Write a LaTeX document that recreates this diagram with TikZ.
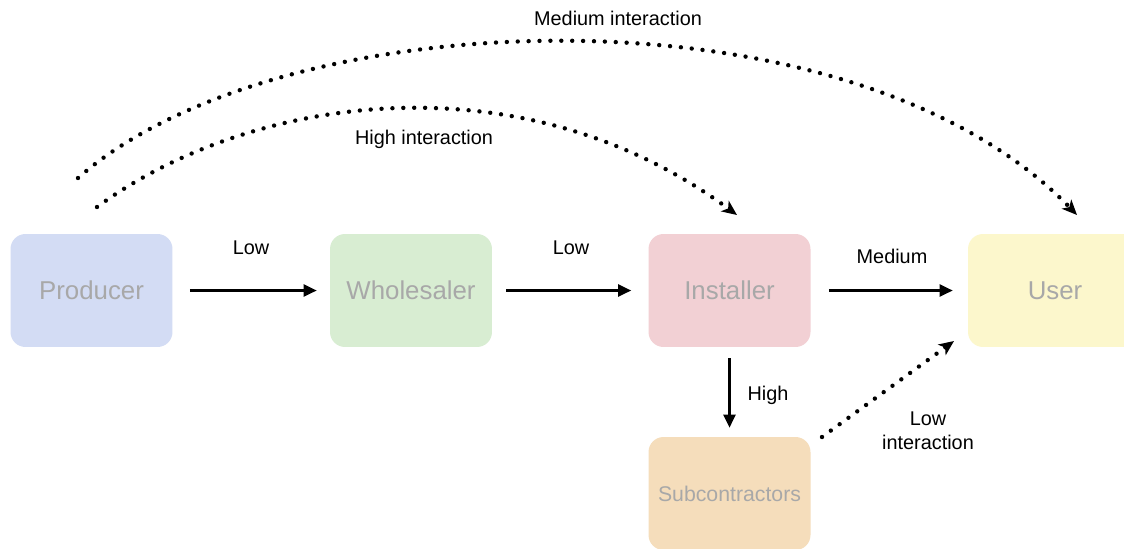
\documentclass[tikz,border=0pt]{standalone}
\usepackage{fontspec}
\setmainfont{Liberation Sans}
\usetikzlibrary{arrows.meta}
\definecolor{prodc}{HTML}{D3DCF4}
\definecolor{wholc}{HTML}{D8EDD2}
\definecolor{instc}{HTML}{F2D0D4}
\definecolor{userc}{HTML}{FCF7CC}
\definecolor{subc}{HTML}{F5DDBB}
\definecolor{txtgray}{HTML}{A8A8A8}
\begin{document}
\begin{tikzpicture}[x=0.02cm,y=-0.02cm,
  box/.style={rounded corners=0.3cm, minimum width=3.24cm, minimum height=2.26cm, inner sep=0pt, text=txtgray, font=\fontsize{14.7}{17}\selectfont},
  lbl/.style={font=\fontsize{11.3}{13.5}\selectfont, text=black, inner sep=0pt, align=center},
  solidarrow/.style={line width=1.3pt, -{Triangle[length=0.26cm,width=0.24cm]}},
  dotarrow/.style={line width=2.5pt, line cap=round, dash pattern=on 0pt off 6.2pt, -{Stealth[length=0.3cm,width=0.26cm,inset=0.08cm]}}]
\useasboundingbox (0,0) rectangle (1124,548);
\clip (0,0) rectangle (1124,548);
\fill[white] (0,0) rectangle (1124,548);

\node[box, fill=prodc] (prod) at (91.5,290.5) {Producer};
\node[box, fill=wholc] (whol) at (411,290.5) {Wholesaler};
\node[box, fill=instc] (inst) at (729.5,290.5) {Installer};
\node[box, fill=userc, minimum width=3.48cm] (user) at (1055,290.5) {User};
\node[box, fill=subc, font=\fontsize{12.1}{14}\selectfont] (sub) at (729.5,493.5) {Subcontractors};

\draw[solidarrow, shorten <=0.34cm, shorten >=0.26cm] (prod.east) -- (whol.west);
\draw[solidarrow, shorten <=0.28cm, shorten >=0.34cm] (whol.east) -- (inst.west);
\draw[solidarrow, shorten <=0.36cm, shorten >=0.30cm] (inst.east) -- (user.west);
\draw[solidarrow, shorten <=0.22cm, shorten >=0.18cm] (inst.south) -- (sub.north);

\node[lbl] (l1) at (251,248) {Low};
\node[lbl] (l2) at (571,248) {Low};
\node[lbl] (l3) at (892,256) {Medium};
\node[lbl] (l4) at (768,395) {High};
\node[lbl] (l5) at (928,431) {Low\\interaction};
\node[lbl] (l6) at (424,139) {High interaction};
\node[lbl] (l7) at (618,18) {Medium interaction};

\coordinate (hs) at (97,207);
\coordinate (he) at (737,215);
\coordinate (ms) at (78,178);
\coordinate (me) at (1077,215);
\coordinate (ls) at (822,437);
\coordinate (le) at (954,341);

\draw[dotarrow] (hs) .. controls (250,95) and (520,55) .. (he);
\draw[dotarrow] (ms) .. controls (280,0) and (850,-20) .. (me);
\draw[dotarrow] (ls) -- (le);
\end{tikzpicture}
\end{document}
